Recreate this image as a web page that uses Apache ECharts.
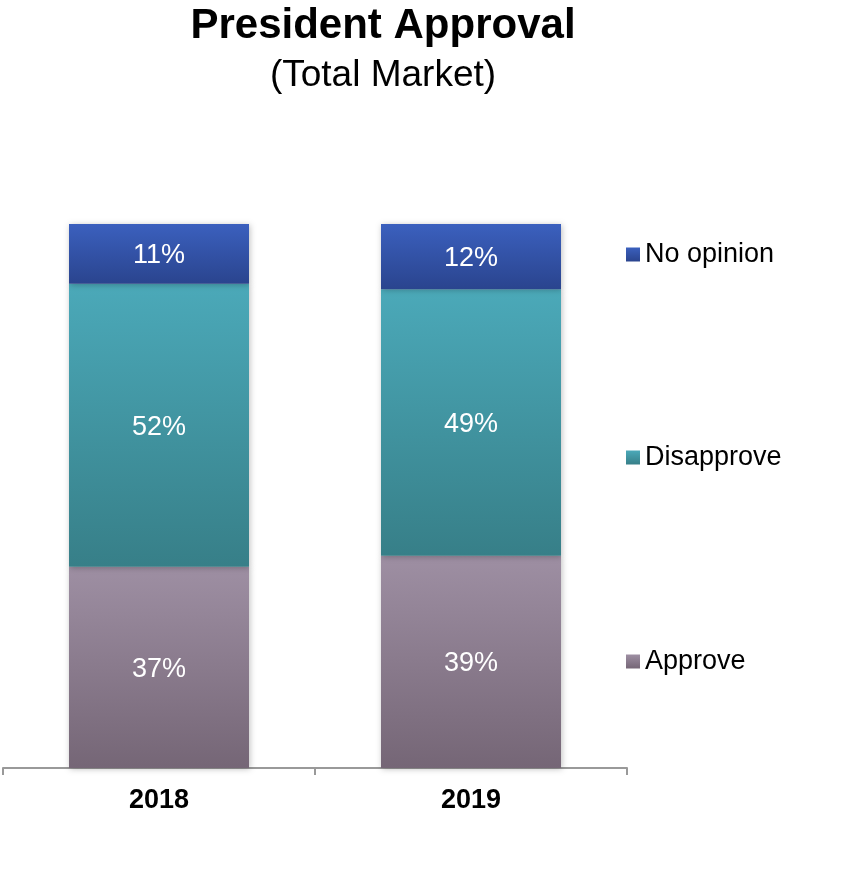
<!DOCTYPE html>
<html>
<head>
<meta charset="utf-8">
<script src="https://cdn.jsdelivr.net/npm/echarts@6/dist/echarts.min.js"></script>
<style>html,body{margin:0;padding:0;background:#fff}#c{width:861px;height:876px}</style>
</head>
<body>
<div id="c"></div>
<script>
var categories = ['2018', '2019'];
var approve = [37, 39];
var disapprove = [52, 49];
var noOpinion = [11, 12];
var seriesNames = ['Approve', 'Disapprove', 'No opinion'];

function grad(top, bottom) {
  return new echarts.graphic.LinearGradient(0, 0, 0, 1, [
    {offset: 0, color: top}, {offset: 1, color: bottom}
  ]);
}
var FONT = '"Liberation Sans", Arial, sans-serif';
var colors = [grad('#9e8fa3', '#756676'), grad('#4ba9b9', '#377f88'), grad('#3b60be', '#2a448e')];
var dataSets = [approve, disapprove, noOpinion];

var chart = echarts.init(document.getElementById('c'));
var series = seriesNames.map(function (n, i) {
  return {
    name: n, type: 'bar', stack: 'total', barWidth: 180,
    data: dataSets[i],
    itemStyle: {color: colors[i], shadowBlur: 6, shadowColor: 'rgba(0,0,0,0.25)', shadowOffsetX: 1, shadowOffsetY: 1},
    label: {show: true, position: 'inside', offset: [0, 2], color: '#fff', fontSize: 27, fontFamily: FONT, formatter: '{c}%'}
  };
});
function lg(name, top) {
  return {
    data: [name], left: 626, top: top, orient: 'vertical', icon: 'rect', padding: 0,
    itemWidth: 14, itemHeight: 14, itemGap: 5,
    textStyle: {fontSize: 27, fontFamily: FONT, color: '#000'}, selectedMode: false
  };
}
chart.setOption({
  animation: false,
  title: [
    {text: 'President Approval', left: 378, textAlign: 'center', top: 0,
     textStyle: {fontSize: 42, fontWeight: 'bold', fontFamily: FONT, color: '#000'}},
    {text: '(Total Market)', left: 378, textAlign: 'center', top: 52,
     textStyle: {fontSize: 37, fontWeight: 'normal', fontFamily: FONT, color: '#000'}}
  ],
  legend: [lg('No opinion', 241), lg('Disapprove', 444), lg('Approve', 648)],
  grid: {left: 3, right: 234, top: 224, bottom: 108},
  xAxis: {
    type: 'category', data: categories,
    axisLine: {lineStyle: {color: '#999', width: 2}},
    axisTick: {show: true, length: 7, lineStyle: {color: '#999', width: 2}},
    axisLabel: {fontSize: 27, fontWeight: 'bold', fontFamily: FONT, color: '#000', margin: 19}
  },
  yAxis: {type: 'value', min: 0, max: 100, show: false, splitLine: {show: false}},
  series: series
});
</script>
</body>
</html>
